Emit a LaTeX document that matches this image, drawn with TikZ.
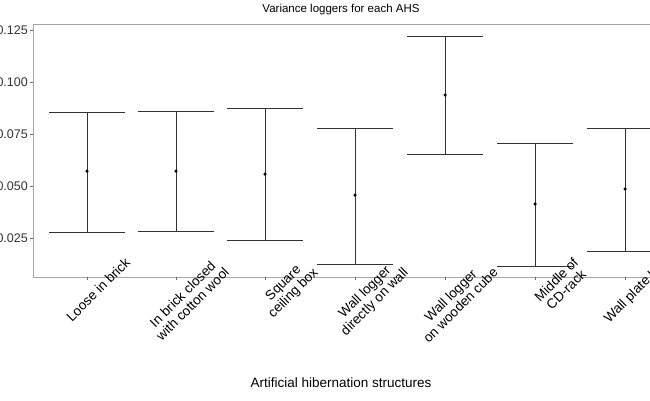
\documentclass[tikz,border=0pt]{standalone}
\usepackage{fontspec}
\setmainfont{Liberation Sans}
\begin{document}
\begin{tikzpicture}[x=1pt,y=-1pt,
  bar/.style={draw=black!80,line width=0.7pt},
  pt/.style={circle,fill=black,inner sep=0pt,minimum size=3.5pt},
  ticklab/.style={font=\fontsize{12.5}{14}\selectfont,text=black!80,anchor=east,inner sep=1pt},
  catlab/.style={font=\fontsize{13.5}{14}\selectfont,rotate=45,anchor=north east,align=center,inner sep=1pt}]
\useasboundingbox (0,0) rectangle (650,400);
\draw[black!35,line width=0.8pt] (700,24) -- (33,24) -- (33,277) -- (700,277);
\foreach \v/\y in {0.125/30,0.100/82,0.075/134,0.050/186,0.025/238}{
  \draw[black!60] (30,\y) -- (33,\y);
  \node[ticklab] at (29,\y) {\v};
}
\foreach \x/\t/\b/\p [count=\i] in {87/112/232/171,176/111/231/171,265/108/240/174,355/128/264/195,445/36/154/95,535/143/266/204,625/128/251/189}{
  \draw[bar] (\x-38,\t) -- (\x+38,\t) (\x-38,\b) -- (\x+38,\b) (\x,\t) -- (\x,\b);
  \node[pt] (m\i) at (\x,\p) {};
  \draw[black!60] (\x,277) -- (\x,280);
  \coordinate (c\i) at (\x+37,255);
}
\node[catlab] at (c1) {Loose in brick};
\node[catlab] at (c2) {In brick closed\\with cotton wool};
\node[catlab] at (c3) {Square\\ceiling box};
\node[catlab] at (c4) {Wall logger\\directly on wall};
\node[catlab] at (c5) {Wall logger\\on wooden cube};
\node[catlab] at (c6) {Middle of\\CD-rack};
\node[catlab] at (c7) {Wall plate box};
\node[font=\fontsize{11.5}{13}\selectfont] (title) at (341,10) {Variance loggers for each AHS};
\node[font=\fontsize{13.5}{15}\selectfont] (xt) at (341,383) {Artificial hibernation structures};
\end{tikzpicture}
\end{document}
